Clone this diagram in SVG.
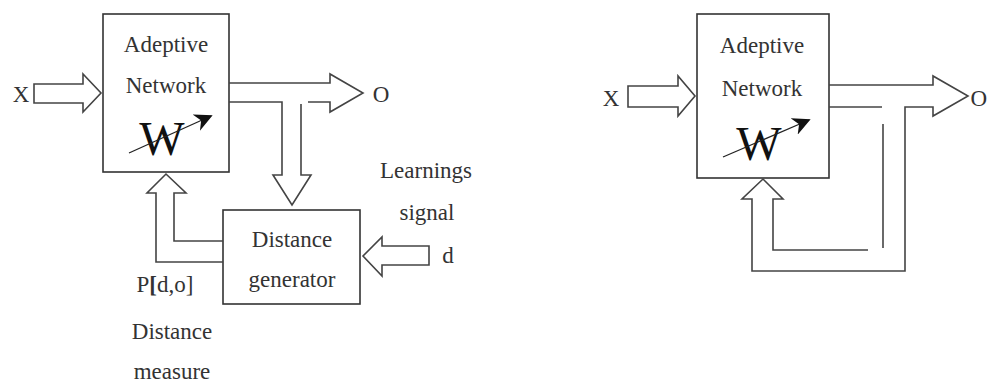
<svg xmlns="http://www.w3.org/2000/svg" width="988" height="383" viewBox="0 0 988 383">
<defs>
<style>
.box{fill:#fff;stroke:#333;stroke-width:1.6}
.ln{fill:none;stroke:#444;stroke-width:1.6;stroke-linejoin:miter}
.t{font-family:"Liberation Serif","Times New Roman",serif;font-size:23px;fill:#333;text-anchor:middle}
.w{font-family:"Liberation Serif","Times New Roman",serif;font-size:48px;fill:#111;text-anchor:middle}
.wa{stroke:#222;stroke-width:1.3;fill:none}
</style>
<marker id="ah2" viewBox="0 0 10 10" refX="9" refY="5" markerWidth="18" markerHeight="18" markerUnits="userSpaceOnUse" orient="auto">
<path d="M0,0 L10,5 L0,10 L3,5 Z" fill="#111"/>
</marker>
</defs>

<!-- Left diagram -->
<g id="left-network">
<rect class="box" x="103" y="14" width="126" height="158"/>
<text class="t" x="166" y="52">Adeptive</text>
<text class="t" x="166" y="93">Network</text>
<text class="w" x="162" y="155">W</text>
<line class="wa" x1="129" y1="153" x2="211" y2="116" marker-end="url(#ah2)"/>
</g>
<g id="left-distance">
<rect class="box" x="223" y="210" width="137" height="94"/>
<text class="t" x="292" y="247">Distance</text>
<text class="t" x="292" y="287">generator</text>
</g>
<g id="left-labels">
<text class="t" x="21" y="102">X</text>
<text class="t" x="381" y="102">O</text>
<text class="t" x="426" y="178">Learnings</text>
<text class="t" x="427" y="220">signal</text>
<text class="t" x="448" y="263">d</text>
<text class="t" x="165" y="292">P<tspan font-weight="bold">[</tspan>d,o]</text>
<text class="t" x="172" y="339">Distance</text>
<text class="t" x="172" y="379">measure</text>
</g>
<g id="left-connectors">
<path class="ln" d="M34,84 H83 V74 L101,93 L83,112 V103 H34 Z"/>
<path class="ln" d="M229,83 H330 V74 L363,93 L330,112 V102 H308"/>
<path class="ln" d="M229,102 H282 V175 H273 L292,205 L311,175 H301 V104"/>
<path class="ln" d="M223,241 H174 V193 H186 L166,174 L147,193 H156 V262 H223"/>
<path class="ln" d="M429,246 H382 V237 L363,256 L382,276 V265 H429 Z"/>
</g>

<!-- Right diagram -->
<g id="right-network">
<rect class="box" x="697" y="14" width="132" height="164"/>
<text class="t" x="762" y="53">Adeptive</text>
<text class="t" x="762" y="96">Network</text>
<text class="w" x="759" y="160">W</text>
<line class="wa" x1="723" y1="157" x2="809" y2="120" marker-end="url(#ah2)"/>
</g>
<g id="right-labels">
<text class="t" x="611" y="106">X</text>
<text class="t" x="987" y="106" style="text-anchor:end">O</text>
</g>
<g id="right-connectors">
<path class="ln" d="M628,86 H678 V76 L695,96 L678,116 V107 H628 Z"/>
<path class="ln" d="M829,85 H933 V76 L968,96 L933,116 V107 H905 V271 H752 V199 H742 L763,179 L783,199 H773 V250 H868"/>
<path class="ln" d="M829,107 H882"/>
<path class="ln" d="M883,124 V248"/>
</g>
</svg>
